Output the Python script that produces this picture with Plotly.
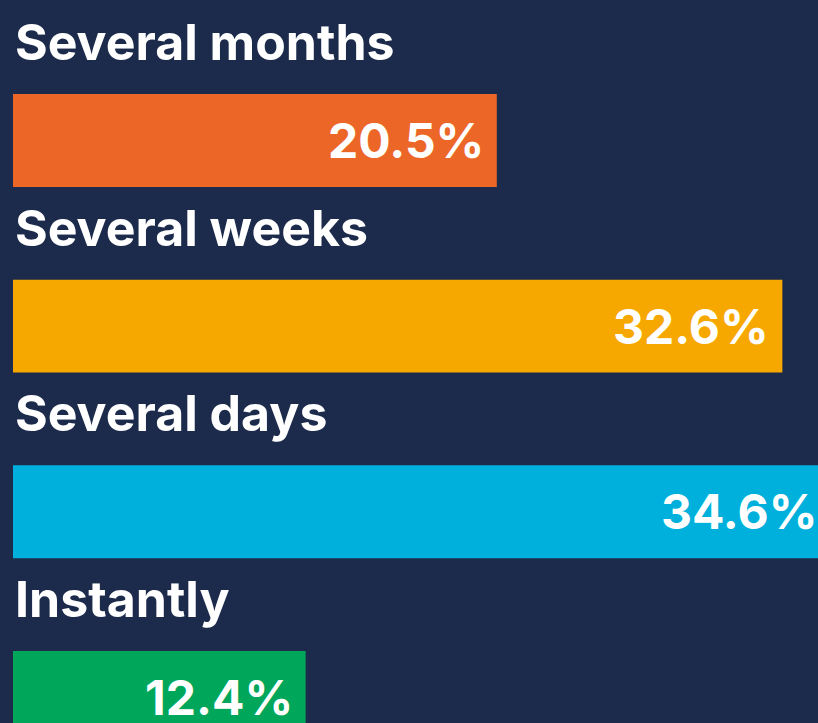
import plotly.graph_objects as go

# Data
categories = ['Several months', 'Several weeks', 'Several days', 'Instantly']
values = [20.5, 32.6, 34.6, 12.4]
value_labels = ['20.5%', '32.6%', '34.6%', '12.4%']
colors = ['#ec6727', '#f7a800', '#00b0dc', '#00a65a']

BG = '#1c2b4b'
FONT = 'Inter'
X_MAX = 805 / 23.6   # the longest bar runs past the right edge

fig = go.Figure()

fig.add_trace(go.Bar(
    x=values,
    y=list(range(len(categories))),
    orientation='h',
    width=0.5,
    marker=dict(color=colors, line=dict(width=0)),
    hoverinfo='skip',
))

# Category label above each bar
for i, cat in enumerate(categories):
    fig.add_annotation(
        x=0, y=i - 0.53, xref='x', yref='y',
        text=cat, showarrow=False,
        xanchor='left', yanchor='middle',
        font=dict(family=FONT, size=50, color='white', weight='bold'),
    )

# Value label inside the end of each bar (paper x so the clipped bar keeps its label)
for i, (v, lab) in enumerate(zip(values, value_labels)):
    fig.add_annotation(
        x=v / X_MAX, y=i, xref='paper', yref='y',
        text=lab, showarrow=False,
        xanchor='right', yanchor='middle', xshift=-11,
        font=dict(family=FONT, size=48, color='white', weight='bold'),
    )

fig.update_layout(
    width=818, height=723,
    margin=dict(l=13, r=0, t=0, b=0),
    paper_bgcolor=BG, plot_bgcolor=BG,
    showlegend=False,
    dragmode=False,
)
fig.update_xaxes(range=[0, X_MAX], visible=False, fixedrange=True)
fig.update_yaxes(range=[3.138, -0.757], visible=False, fixedrange=True)

fig.write_html('out.html', config={'displayModeBar': False},
               post_script="document.body.style.margin='0';document.body.style.overflow='hidden';")
